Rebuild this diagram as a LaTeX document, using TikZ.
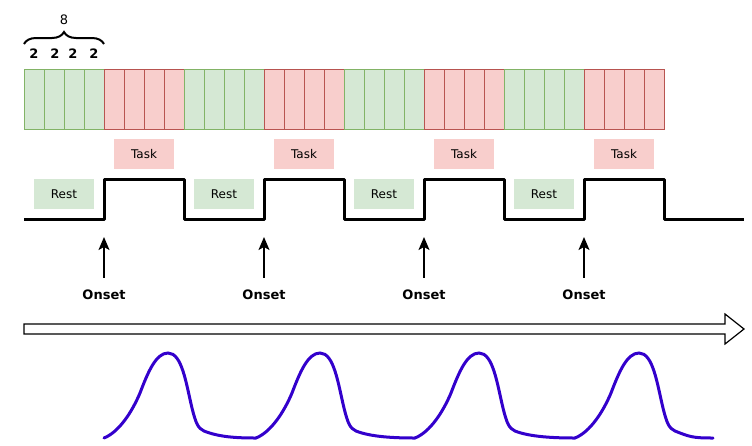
\documentclass[tikz,border=0pt]{standalone}
\usepackage{fontspec}
\setmainfont{DejaVu Sans}
\usetikzlibrary{arrows.meta, decorations.pathreplacing}
\definecolor{restfill}{HTML}{D5E8D4}
\definecolor{restline}{HTML}{82B366}
\definecolor{taskfill}{HTML}{F8CECC}
\definecolor{taskline}{HTML}{B85450}
\definecolor{signalblue}{HTML}{3300CC}

\begin{document}
\begin{tikzpicture}[x=1pt, y=-1pt,
                    cell/.style={rectangle,draw,minimum width=20pt,minimum height=60pt,inner sep=0pt,line width=0.8pt},
                    rest cell/.style={cell,fill=restfill,draw=restline},
                    task cell/.style={cell,fill=taskfill,draw=taskline},
                    label box/.style={rectangle,minimum width=60pt,minimum height=30pt,inner sep=0pt,font=\fontsize{12}{14}\selectfont},
                    rest box/.style={label box,fill=restfill},
                    task box/.style={label box,fill=taskfill},
                    onset node/.style={inner sep=2pt,font=\fontsize{13}{15}\selectfont\bfseries},
                    count node/.style={inner sep=1pt,font=\fontsize{13}{15}\selectfont}]

  \useasboundingbox (0,0) rectangle (752,445);

  % volumes: 4 rest, 4 task, ...
  \foreach \i in {0,...,31} {
    \pgfmathtruncatemacro\blk{mod(floor(\i/4),2)}
    \ifnum\blk=0
      \node[rest cell] (c\i) at (34+20*\i,99) {};
    \else
      \node[task cell] (c\i) at (34+20*\i,99) {};
    \fi
  }

  % brace over the first block
  \coordinate (brace left) at (24,44);
  \coordinate (brace right) at (104,44);
  \draw[line width=2pt, decorate, decoration={brace, amplitude=12pt}] (brace left) -- (brace right);
  \node[count node] (eight) at (64,20) {8};
  \foreach \x [count=\n] in {34,55,73,94}
    \node[count node, font=\fontsize{13}{15}\selectfont\bfseries] (two\n) at (\x,54) {2};

  % block labels
  \foreach \x [count=\n] in {64,224,384,544} {
    \node[rest box] (rest\n) at (\x,194) {Rest};
    \node[task box] (task\n) at (\x+80,154) {Task};
  }

  % boxcar
  \draw[line width=3pt, line join=round] (24,219)
    \foreach \x in {104,264,424,584} { -- (\x,219) -- (\x,179) -- (\x+80,179) -- (\x+80,219) }
    -- (744,219);

  % onsets
  \foreach \x [count=\n] in {104,264,424,584} {
    \node[onset node] (onset\n) at (\x,295) {Onset};
    \coordinate (tip\n) at (\x,237);
    \draw[line width=1.5pt, shorten <=10pt, -{Stealth[length=13pt,width=11pt,inset=3pt]}] (onset\n) -- (tip\n);
  }

  % time axis
  \draw[line width=1.2pt, line join=miter] (24,324) -- (725,324) -- (725,314) -- (744,329)
    -- (725,344) -- (725,334) -- (24,334) -- cycle;

  % response
  \foreach \s/\t in {104/152, 256/159, 415/160, 575/138}
    \draw[signalblue, line width=3pt, line cap=round]
      (\s,438) .. controls (\s+15,432) and (\s+28,412) .. (\s+36,393)
      .. controls (\s+44,372) and (\s+52,353) .. (\s+64,353)
      .. controls (\s+78,353) and (\s+82,383) .. (\s+88,408)
      .. controls (\s+92,424) and (\s+94,428) .. (\s+100,431)
      .. controls (\s+115,437) and (\s+\t-20,438) .. (\s+\t,438);
\end{tikzpicture}
\end{document}
